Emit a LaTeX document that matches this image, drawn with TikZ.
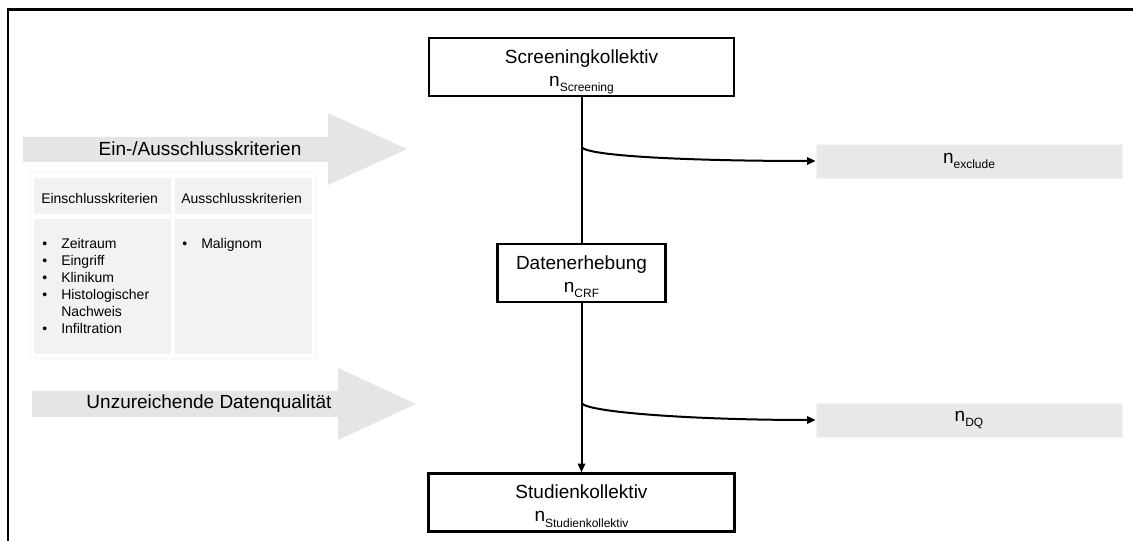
\documentclass[tikz,border=0pt]{standalone}
\usepackage{fontspec}
\setmainfont{Liberation Sans}
\usepackage{tikz}
\usetikzlibrary{arrows.meta,positioning}

\newcommand{\ncount}[1]{n\raisebox{-0.55ex}{\fontsize{9}{9}\selectfont #1}}

\begin{document}
\begin{tikzpicture}[x=0.75pt, y=-0.75pt,
  stage/.style={draw, line width=1.8pt, fill=white, align=center, inner sep=0pt,
                minimum height=43.5pt, text height=31pt, text depth=1.8pt,
                font=\fontsize{14.25}{17.5}\selectfont},
  dropbox/.style={fill=black!9, draw=black!4, minimum width=229.5pt, minimum height=25.5pt,
                  inner sep=0pt, font=\fontsize{14.25}{17}\selectfont},
  cell/.style={fill=black!5, inner sep=0pt, minimum width=102.75pt},
  band/.style={fill=black!10},
  bandlbl/.style={inner sep=0pt, font=\fontsize{14.25}{17}\selectfont},
  critlbl/.style={inner sep=0pt, align=left, font=\fontsize{10.5}{12.75}\selectfont},
  conn/.style={line width=1.5pt},
  arr/.style={-{Triangle[length=6.5pt,width=5.5pt]}, line width=1.5pt},
  fork/.style={out=-60, in=180, out looseness=0.12, in looseness=1.3}
]
  \useasboundingbox (0,0) rectangle (1133,541);
  \draw[line width=1.6pt] (8,541) -- (8,9.5) -- (1133,9.5);

  \fill[band] (23,137) -- (328,137) -- (328,113) -- (407,149) -- (328,185)
              -- (328,162) -- (23,162) -- cycle;
  \node[bandlbl] (critband) at (200,149) {Ein-/Ausschlusskriterien};

  \fill[band] (32,391) -- (338,391) -- (338,368) -- (416,404) -- (338,440)
              -- (338,417) -- (32,417) -- cycle;
  \node[bandlbl] (dqband) at (209,404) {Unzureichende Datenqualität};

  \node[draw=black!4, fill=white, minimum width=213.75pt, minimum height=139.5pt] (crittab) at (172.5,265) {};
  \node[cell, minimum height=27pt] (inhead) at (102.5,196) {};
  \node[cell, minimum height=27pt] (exhead) at (243.5,196) {};
  \node[cell, minimum height=101.25pt] (inbody) at (102.5,286.5) {};
  \node[cell, minimum height=101.25pt] (exbody) at (243.5,286.5) {};
  \node[critlbl, anchor=west] (inlbl) at (41,199) {Einschlusskriterien};
  \node[critlbl, anchor=west] (exlbl) at (181,199) {Ausschlusskriterien};
  \node[critlbl, anchor=north west] (inlist) at (42,236)
    {\begin{tabular}{@{}p{14.25pt}@{}l@{}}
       \textbullet & Zeitraum\\
       \textbullet & Eingriff\\
       \textbullet & Klinikum\\
       \textbullet & Histologischer\\
                   & Nachweis\\
       \textbullet & Infiltration
     \end{tabular}};
  \node[critlbl, anchor=north west] (exlist) at (182,236)
    {\begin{tabular}{@{}p{14.25pt}@{}l@{}}
       \textbullet & Malignom
     \end{tabular}};

  \node[stage, minimum width=228.75pt] (screen) at (581.5,67)
    {Screeningkollektiv\\\ncount{Screening}};
  \node[stage, minimum width=126pt] (daten) at (581.5,273)
    {Datenerhebung\\\ncount{CRF}};
  \node[stage, minimum width=229.5pt] (studie) at (581.5,502.5)
    {Studienkollektiv\\\ncount{Studienkollektiv}};

  \node[dropbox] (excl) at (969,161) {\ncount{exclude}};
  \node[dropbox] (dq) at (969,420) {\ncount{DQ}};

  \coordinate (fork1) at (581.5,147);
  \coordinate (fork2) at (581.5,403);

  \draw[conn] (screen.south) -- (daten.north);
  \draw[arr]  (daten.south) -- (studie.north);
  \draw[arr]  (fork1) to[fork] (excl.west);
  \draw[arr]  (fork2) to[fork] (dq.west);
\end{tikzpicture}
\end{document}
